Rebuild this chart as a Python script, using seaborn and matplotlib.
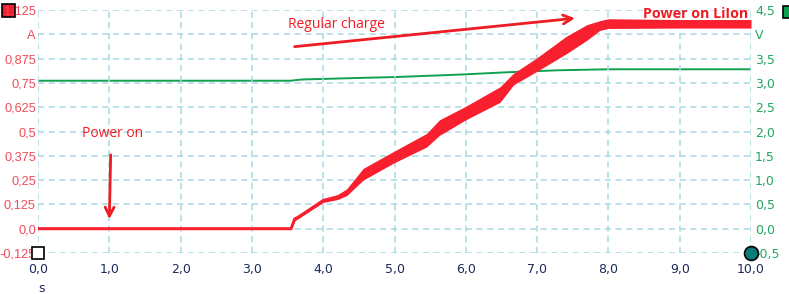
import matplotlib
matplotlib.use("Agg")
import matplotlib.pyplot as plt
import seaborn as sns
import pandas as pd
from matplotlib.patches import Rectangle

# ---- data ----
t_cur = [0.0, 3.55, 3.60, 3.65, 4.00, 4.20, 4.33, 4.56, 5.00, 5.45, 5.63, 6.00, 6.48, 6.67, 7.00, 7.41, 7.70, 7.88, 8.00, 9.00, 10.0]
cur_lo = [0.0, 0.0, 0.040, 0.052, 0.135, 0.150, 0.170, 0.250, 0.340, 0.420, 0.480, 0.560, 0.650, 0.740, 0.810, 0.900, 0.970, 1.020, 1.030, 1.032, 1.032]
cur_hi = [0.0, 0.0, 0.060, 0.066, 0.155, 0.175, 0.205, 0.310, 0.400, 0.490, 0.560, 0.630, 0.730, 0.800, 0.880, 0.990, 1.050, 1.070, 1.080, 1.076, 1.076]

t_volt = [0.0, 3.55, 3.60, 3.70, 4.45, 5.00, 5.90, 6.60, 7.30, 8.00, 10.0]
volt = [3.045, 3.045, 3.055, 3.07, 3.10, 3.12, 3.17, 3.22, 3.26, 3.28, 3.28]

x_ticks = [0, 1, 2, 3, 4, 5, 6, 7, 8, 9, 10]
x_labels = ["0,0", "1,0", "2,0", "3,0", "4,0", "5,0", "6,0", "7,0", "8,0", "9,0", "10,0"]
a_ticks = [-0.125, 0.0, 0.125, 0.25, 0.375, 0.5, 0.625, 0.75, 0.875, 1.0, 1.125]
a_labels = ["-0,125", "0,0", "0,125", "0,25", "0,375", "0,5", "0,625", "0,75", "0,875", "A", "1,125"]
v_ticks = [-0.5, 0.0, 0.5, 1.0, 1.5, 2.0, 2.5, 3.0, 3.5, 4.0, 4.5]
v_labels = ["-0,5", "0,0", "0,5", "1,0", "1,5", "2,0", "2,5", "3,0", "3,5", "V", "4,5"]

cur_mid = [(a + b) / 2 for a, b in zip(cur_lo, cur_hi)]
df_cur = pd.DataFrame({"t": t_cur, "A": cur_mid})
df_volt = pd.DataFrame({"t": t_volt, "V": volt})

sns.set_theme(style="white")
plt.rcParams['font.family'] = ['DejaVu Sans']

RED = "#f8202e"
GREEN = "#10a050"
GRID = "#a8d8e2"

fig = plt.figure(figsize=(7.89, 2.94), dpi=100)
ax = fig.add_axes([38 / 789, 1 - 253 / 294, (751 - 38) / 789, (253 - 10) / 294])
ax2 = ax.twinx()

ax.set_xlim(0, 10)
ax.set_ylim(-0.125, 1.125)
ax2.set_ylim(-0.5, 4.5)

for a in (ax, ax2):
    for s in a.spines.values():
        s.set_visible(False)
    a.set_facecolor("none")

ax.set_xticks(x_ticks)
ax.set_xticklabels(x_labels)
ax.set_yticks(a_ticks)
ax.set_yticklabels(a_labels, family="Liberation Sans")
ax2.set_yticks(v_ticks)
ax2.set_yticklabels(v_labels)

ax.grid(True, color=GRID, linestyle=(0, (4, 3)), linewidth=1.1)
ax2.grid(False)

ax.tick_params(axis='x', length=0, pad=7, labelsize=9, labelcolor="#1c2a5a")
ax.tick_params(axis='y', length=0, pad=1.5, labelsize=9.2, labelcolor="#f04a58")
ax2.tick_params(axis='y', length=0, pad=3, labelsize=9, labelcolor="#20a860")

# voltage (right axis)
sns.lineplot(data=df_volt, x="t", y="V", ax=ax2, color=GREEN, linewidth=1.4, legend=False)
ax2.set_zorder(1)
ax.set_zorder(2)
ax.patch.set_visible(False)
ax2.set_xlabel("")
ax2.set_ylabel("")

# current (left axis)
ax.fill_between(t_cur, cur_lo, cur_hi, color=RED, linewidth=0, zorder=3)
sns.lineplot(data=df_cur, x="t", y="A", ax=ax, color=RED, linewidth=2.2, legend=False, zorder=4)
ax.set_xlabel("")
ax.set_ylabel("")

# annotations
ax.text(4.19, 1.048, "Regular charge", color="#f01c24", fontsize=10, ha="center", va="center",
        family="Open Sans")
ax.annotate("", xy=(7.57, 1.084), xytext=(3.56, 0.935),
            arrowprops=dict(arrowstyle="->", color="#f01c24", lw=2, mutation_scale=16))
ax.text(1.05, 0.492, "Power on", color="#f01c24", fontsize=10, ha="center", va="center",
        family="Open Sans")
ax.annotate("", xy=(1.0, 0.035), xytext=(1.02, 0.394),
            arrowprops=dict(arrowstyle="->", color="#f01c24", lw=2, mutation_scale=16))
ax.text(9.96, 1.102, "Power on LiIon", color="#f01c24", fontsize=10.3, fontweight="bold",
        ha="right", va="center", family="Open Sans", clip_on=False, zorder=6)

# x axis unit
fig.text(42 / 789, 1 - 288 / 294, "s", fontsize=9, color="#1c2a5a", ha="center", va="center")

# corner markers
fig.add_artist(Rectangle((2 / 789, 1 - 17 / 294), 13 / 789, 13 / 294, facecolor="#f02030",
                         edgecolor="black", linewidth=1.2, transform=fig.transFigure))
fig.add_artist(Rectangle((783 / 789, 1 - 18 / 294), 13 / 789, 12 / 294, facecolor="#10a050",
                         edgecolor="black", linewidth=1.2, transform=fig.transFigure))
ax.plot([0], [-0.125], marker="s", markersize=8, markerfacecolor="white",
        markeredgecolor="black", markeredgewidth=1.2, clip_on=False, zorder=7)
ax.plot([10], [-0.125], marker="o", markersize=10, markerfacecolor="#0a7a7a",
        markeredgecolor="black", markeredgewidth=1.2, clip_on=False, zorder=7)

fig.savefig("out.png", dpi=100)
